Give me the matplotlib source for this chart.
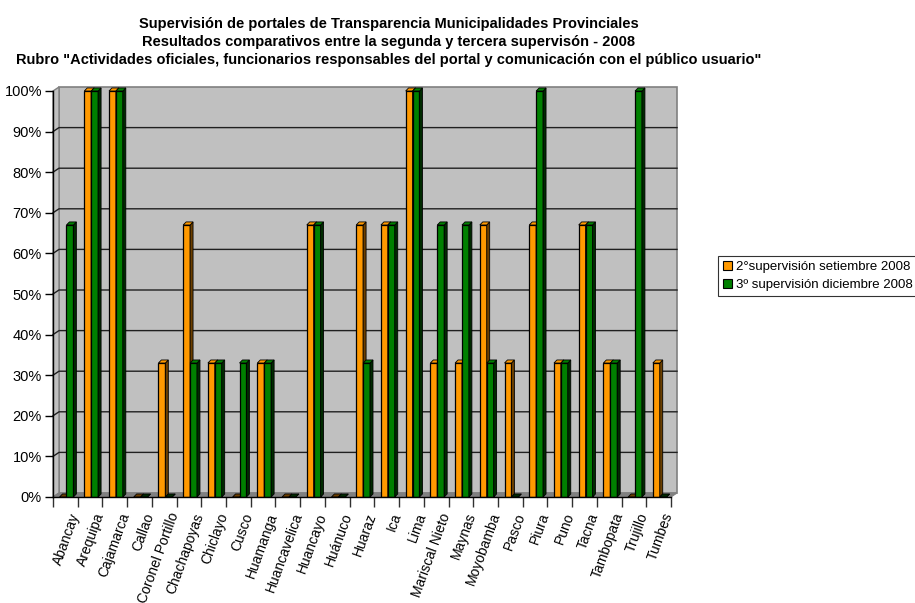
import numpy as np
import matplotlib.pyplot as plt
from matplotlib.patches import Polygon, Patch
from matplotlib.transforms import ScaledTranslation

plt.rcParams['font.family'] = ['Liberation Sans', 'DejaVu Sans']

# data
cities = ['Abancay', 'Arequipa', 'Cajamarca', 'Callao', 'Coronel Portillo',
          'Chachapoyas', 'Chiclayo', 'Cusco', 'Huamanga', 'Huancavelica',
          'Huancayo', 'Huánuco', 'Huaraz', 'Ica', 'Lima', 'Mariscal Nieto',
          'Maynas', 'Moyobamba', 'Pasco', 'Piura', 'Puno', 'Tacna',
          'Tambopata', 'Trujillo', 'Tumbes']
sep2008 = [0, 100, 100, 0, 33, 67, 33, 0, 33, 0, 67, 0, 67, 67, 100,
           33, 33, 67, 33, 67, 33, 67, 33, 0, 33]
dic2008 = [67, 100, 100, 0, 0, 33, 33, 33, 33, 0, 67, 0, 33, 67, 100,
           67, 67, 33, 0, 100, 33, 67, 33, 100, 0]
series_names = ['2°supervisión setiembre 2008', '3º supervisión diciembre 2008']
yticks = [0, 10, 20, 30, 40, 50, 60, 70, 80, 90, 100]

orange, orange_side = '#FF9900', '#6B3F00'
green, green_side = '#008000', '#002A00'
wall = '#C0C0C0'

W, H = 915, 603
fig = plt.figure(figsize=(W / 100, H / 100), dpi=100)
ax = fig.add_axes([53 / W, 1 - 497 / H, (671 - 53) / W, 406 / H])
n = len(cities)
ax.set_xlim(-0.5, n - 0.5)
ax.set_ylim(0, 100)
ax.set_facecolor('none')

# 3d wall offset (data units)
wdx, wdy = 0.243, 0.985
x0, x1 = -0.5, n - 0.5
back = Polygon([(x0 + wdx, wdy), (x1 + wdx, wdy), (x1 + wdx, 100 + wdy), (x0 + wdx, 100 + wdy)],
               closed=True, facecolor=wall, edgecolor='#808080', lw=1.2, clip_on=False, zorder=0)
side = Polygon([(x0, 0), (x0 + wdx, wdy), (x0 + wdx, 100 + wdy), (x0, 100)],
               closed=True, facecolor=wall, edgecolor='#808080', lw=1.0, clip_on=False, zorder=0)
floor = Polygon([(x0, 0), (x1, 0), (x1 + wdx, wdy), (x0 + wdx, wdy)],
                closed=True, facecolor='#808080', edgecolor='#808080', lw=0.8, clip_on=False, zorder=0.5)
for p in (back, side, floor):
    ax.add_patch(p)
for v in yticks[1:-1]:
    ax.plot([x0, x0 + wdx, x1 + wdx], [v, v + wdy, v + wdy], color='#202020', lw=1.0,
            clip_on=False, zorder=0.6)

# bars
bw = 0.28
bdx, bdy = 0.12, 0.75
xs = np.arange(n)
z = 2
for i in range(n):
    for left, val, fc, sc in ((xs[i] - 0.235, sep2008[i], orange, orange_side),
                              (xs[i] + 0.045, dic2008[i], green, green_side)):
        ax.bar(left, val, width=bw, align='edge', color=fc, edgecolor='black',
               linewidth=0.9, zorder=z)
        r = left + bw
        ax.add_patch(Polygon([(r, 0), (r + bdx, bdy), (r + bdx, val + bdy), (r, val)],
                             closed=True, facecolor=sc, edgecolor='black', lw=0.6,
                             zorder=z, clip_on=False))
        topc = fc if val > 0 else sc
        ax.add_patch(Polygon([(left, val), (r, val), (r + bdx, val + bdy), (left + bdx, val + bdy)],
                             closed=True, facecolor=topc, edgecolor='black', lw=0.6,
                             zorder=z, clip_on=False))
        z += 1

# axes
for s in ('top', 'right'):
    ax.spines[s].set_visible(False)
ax.spines['left'].set_linewidth(1.0)
ax.spines['bottom'].set_linewidth(1.0)
ax.spines['left'].set_zorder(100)
ax.spines['bottom'].set_zorder(100)
ax.set_yticks(yticks)
ax.set_yticklabels([f'{v}%' for v in yticks], fontsize=10.5)
ax.tick_params(axis='y', direction='out', length=6, width=1.0, pad=2)
ax.set_xticks(xs)
ax.set_xticklabels(cities, fontsize=10, rotation=70, ha='right', va='top',
                   rotation_mode='anchor')
ax.set_xticks(np.arange(-0.5, n, 1.0), minor=True)
ax.tick_params(axis='x', which='major', length=0, pad=10)
ax.tick_params(axis='x', which='minor', direction='out', length=7, width=1.0, color='#303030')
off = ScaledTranslation(4 / 100, 0, fig.dpi_scale_trans)
for lab in ax.get_xticklabels():
    lab.set_transform(lab.get_transform() + off)

# title
tx = 389 / W
fig.text(tx, 1 - 24 / H, 'Supervisión de portales de Transparencia Municipalidades Provinciales',
         ha='center', va='center', fontsize=10.5, fontweight='bold')
fig.text(tx, 1 - 42 / H, 'Resultados comparativos entre la segunda y tercera supervisón - 2008',
         ha='center', va='center', fontsize=10.5, fontweight='bold')
fig.text(tx, 1 - 60 / H, 'Rubro "Actividades oficiales, funcionarios responsables del portal y '
         'comunicación con el público usuario"', ha='center', va='center', fontsize=10.5,
         fontweight='bold')

# legend
handles = [Patch(facecolor=orange, edgecolor='black', lw=0.8),
           Patch(facecolor=green, edgecolor='black', lw=0.8)]
leg = fig.legend(handles, series_names, loc='upper left',
                 bbox_to_anchor=(718 / W, 1 - 256 / H), fontsize=9.5, frameon=True,
                 fancybox=False, edgecolor='black', handlelength=0.7, handleheight=0.7,
                 handletextpad=0.3, borderpad=0.35, labelspacing=0.45, borderaxespad=0)
leg.get_frame().set_linewidth(0.8)

fig.savefig('out.png', dpi=100)
